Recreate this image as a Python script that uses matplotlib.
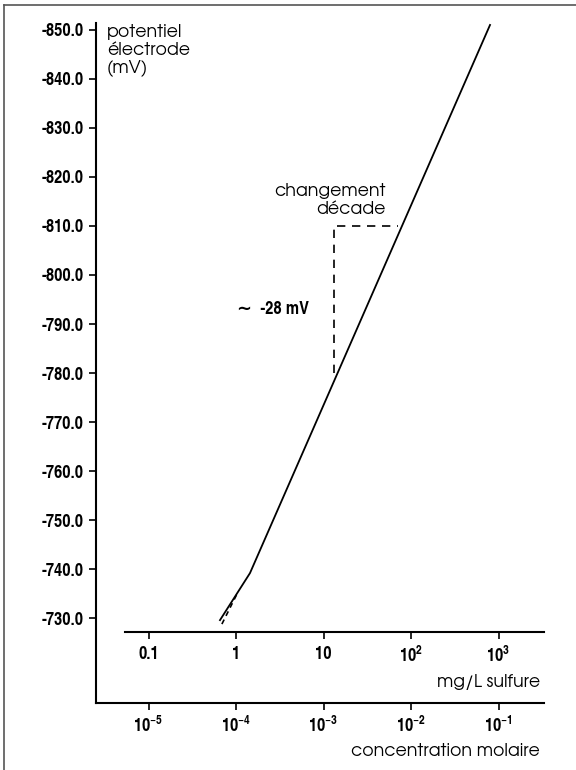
import matplotlib
matplotlib.use("Agg")
import matplotlib.pyplot as plt
from matplotlib.lines import Line2D

plt.rcParams['axes.unicode_minus'] = False
plt.rcParams['mathtext.fontset'] = 'custom'
plt.rcParams['mathtext.rm'] = 'TeX Gyre Heros Cn:bold'
plt.rcParams['mathtext.it'] = 'TeX Gyre Heros Cn:bold'
plt.rcParams['mathtext.bf'] = 'TeX Gyre Heros Cn:bold'

# electrode response (mg/L sulfide vs mV)
conc_mgl = [0.656, 1.445, 800.0]
potential_mv = [-729.6, -739.2, -851.0]
conc_dashed = [0.69, 1.05]
potential_dashed = [-728.8, -735.3]

# decade triangle
tri_conc = [13.2, 13.2, 71.0]
tri_mv = [-780.0, -810.0, -810.0]

y_ticks = [-850, -840, -830, -820, -810, -800, -790, -780, -770, -760, -750, -740, -730]
mgl_ticks = [0.1, 1, 10, 100, 1000]
mgl_labels = ['0.1', '1', '10', '$\\mathrm{10^2}$', '$\\mathrm{10^3}$']
molar_ticks = [1e-5, 1e-4, 1e-3, 1e-2, 1e-1]
molar_labels = ['$\\mathrm{10^{-5}}$', '$\\mathrm{10^{-4}}$', '$\\mathrm{10^{-3}}$',
                '$\\mathrm{10^{-2}}$', '$\\mathrm{10^{-1}}$']
molar_to_mgl = 1e4

W, H = 576, 770
tick_font = dict(family=['TeX Gyre Heros Cn', 'Roboto Condensed', 'DejaVu Sans'],
                 weight='bold', size=13)
text_font = dict(family=['TeX Gyre Adventor', 'Didact Gothic', 'DejaVu Sans'], size=12.5)

fig = plt.figure(figsize=(W / 100, H / 100), dpi=100)

# main axes: y axis + molar axis at bottom
ax = fig.add_axes([96 / W, 1 - 703 / H, (544 - 96) / W, (703 - 23) / H])
ax.set_xscale('log')
ax.set_xlim(10 ** -1.6, 10 ** 3.52)
ax.set_ylim(-712.7, -851.4)
ax.plot(conc_mgl, potential_mv, color='black', lw=1.3)
ax.plot(conc_dashed, potential_dashed, color='black', lw=1.2, ls=(0, (3, 2.5)))
ax.plot(tri_conc, tri_mv, color='black', lw=1.2, ls=(0, (5, 4)))

for s in ['top', 'right']:
    ax.spines[s].set_visible(False)
for s in ['left', 'bottom']:
    ax.spines[s].set_linewidth(1.5)

ax.set_yticks(y_ticks)
ax.set_yticklabels([f"{v:.1f}" for v in y_ticks], **tick_font)
ax.set_xticks([m * molar_to_mgl for m in molar_ticks])
ax.set_xticklabels(molar_labels, **tick_font)
ax.xaxis.set_minor_locator(plt.NullLocator())
ax.tick_params(axis='both', direction='out', length=5, width=1.2, pad=4)

# mg/L axis
ax2 = fig.add_axes([125 / W, 1 - 632 / H, (544 - 125) / W, 0.01])
ax2.set_xscale('log')
ax2.set_xlim(10 ** -1.269, 10 ** 3.52)
ax2.patch.set_visible(False)
for s in ['top', 'right', 'left']:
    ax2.spines[s].set_visible(False)
ax2.spines['bottom'].set_linewidth(1.5)
ax2.set_yticks([])
ax2.set_xticks(mgl_ticks)
ax2.set_xticklabels(mgl_labels, **tick_font)
ax2.xaxis.set_minor_locator(plt.NullLocator())
ax2.tick_params(axis='x', direction='out', length=5, width=1.2, pad=5)

# texts
fig.text(107 / W, 1 - 24 / H, "potentiel\nélectrode\n(mV)", ha='left', va='top',
         linespacing=1.15, **text_font)
fig.text(386 / W, 1 - 183 / H, "changement\ndécade", ha='right', va='top',
         linespacing=1.15, **text_font)
fig.text(237 / W, 1 - 310 / H, "∼  -28 mV", ha='left', va='center', **tick_font)
fig.text(540 / W, 1 - 682 / H, "mg/L sulfure", ha='right', va='center', **text_font)
fig.text(540 / W, 1 - 751 / H, "concentration molaire", ha='right', va='center', **text_font)

# partial frame
fig.add_artist(Line2D([4 / W, 1], [1 - 5 / H, 1 - 5 / H], color='#555555', lw=1.2))
fig.add_artist(Line2D([4 / W, 4 / W], [0, 1 - 5 / H], color='#555555', lw=1.2))

fig.savefig("out.png", dpi=100)
